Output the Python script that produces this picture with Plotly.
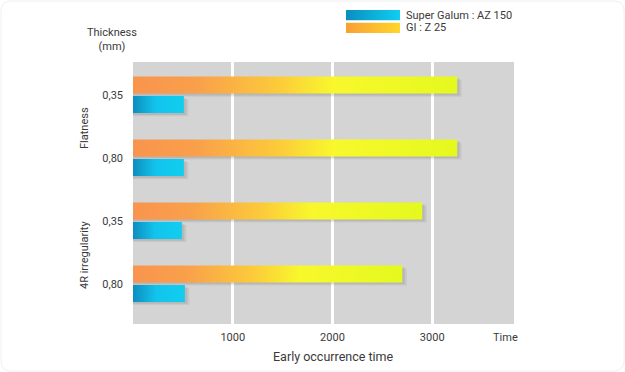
import base64
import plotly.graph_objects as go

# ---- data ----
groups = ["Flatness", "4R irregularity"]
thickness = ["0,35", "0,80", "0,35", "0,80"]
gi_z25 = [3250, 3250, 2900, 2700]          # GI : Z 25 (orange)
super_galum = [510, 510, 490, 520]         # Super Galum : AZ 150 (blue)
x_ticks = [1000, 2000, 3000]
series_names = ["Super Galum : AZ 150", "GI : Z 25"]

FONT = "Roboto, sans-serif"
TXT = "#3a3a3a"

W, H = 625, 372
L, R, T, B = 133, 111, 62, 48
PW, PH = W - L - R, H - T - B

def px(x):
    return (x - L) / PW

def py(y):
    return (H - B - y) / PH

orange_scale = [[0, "#F9944E"], [0.2, "#F9A04B"], [0.45, "#FCCB3A"],
                [0.62, "#F8F82C"], [1, "#E4F91E"]]
blue_scale = [[0, "#0E8DBF"], [0.45, "#12C4EC"], [1, "#12CDEF"]]

BAR_H = 0.27
OFF = 0.155

fig = go.Figure()

def bar(value, yc, scale, name):
    y0, y1 = yc - BAR_H / 2, yc + BAR_H / 2
    for dx, dy, a in [(45, 0.05, 0.06), (25, 0.03, 0.08)]:
        fig.add_trace(go.Scatter(
            x=[0, value + dx, value + dx, 0, 0],
            y=[y0 + dy, y0 + dy, y1 + dy, y1 + dy, y0 + dy],
            fill="toself", mode="lines", line=dict(width=0),
            fillcolor=f"rgba(0,0,0,{a})", hoverinfo="skip", showlegend=False))
    fig.add_trace(go.Scatter(
        x=[0, value, value, 0, 0], y=[y0, y0, y1, y1, y0],
        fill="toself", mode="lines", line=dict(width=0),
        fillgradient=dict(type="horizontal", colorscale=scale),
        name=name, showlegend=False))

for i in range(len(thickness)):
    bar(gi_z25[i], i - OFF, orange_scale, series_names[1])
    bar(super_galum[i], i + OFF, blue_scale, series_names[0])

def grad_svg(c0, c1):
    svg = ('<svg xmlns="http://www.w3.org/2000/svg" width="54" height="11" '
           'viewBox="0 0 54 11" preserveAspectRatio="none"><defs>'
           '<linearGradient id="g" x1="0" y1="0" x2="1" y2="0">'
           f'<stop offset="0" stop-color="{c0}"/><stop offset="1" stop-color="{c1}"/>'
           '</linearGradient></defs><rect width="54" height="11" fill="url(#g)"/></svg>')
    return "data:image/svg+xml;base64," + base64.b64encode(svg.encode()).decode()

def note(x, y, text, size=11, angle=0, xanchor="center"):
    fig.add_annotation(xref="paper", yref="paper", x=px(x), y=py(y), text=text,
                       showarrow=False, xanchor=xanchor, yanchor="middle",
                       textangle=angle, align="center",
                       font=dict(family=FONT, size=size, color=TXT))

leg_sw = [
    (series_names[0], "#0A8EBF", "#10CDF2", 10, 20.5),
    (series_names[1], "#F9A033", "#FFD62A", 22.5, 33),
]
for name, c0, c1, t, b in leg_sw:
    fig.add_layout_image(source=grad_svg(c0, c1), xref="paper", yref="paper",
                         x=px(346), y=py(t), sizex=54 / PW, sizey=(b - t) / PH,
                         xanchor="left", yanchor="top", sizing="stretch", layer="above")
    note(404, (t + b) / 2, name, size=11, xanchor="left")

fig.update_layout(
    width=W, height=H,
    margin=dict(l=L, r=R, t=T, b=B),
    paper_bgcolor="white", plot_bgcolor="#D4D4D4",
    showlegend=False,
    xaxis=dict(range=[0, 3820], tickvals=x_ticks, ticktext=[str(v) for v in x_ticks],
               showgrid=True, gridcolor="white", gridwidth=3, zeroline=False,
               showline=False, ticks="", tickfont=dict(family=FONT, size=11, color=TXT),
               ticklabelstandoff=5, fixedrange=True),
    yaxis=dict(range=[3.64, -0.52], tickvals=list(range(len(thickness))), ticktext=thickness,
               showgrid=False, zeroline=False, showline=False, ticks="",
               tickfont=dict(family=FONT, size=11, color=TXT), ticklabelstandoff=9,
               fixedrange=True),
)

# faint rounded frame around the figure
x0, x1, y0, y1, r = 1, 624, 1, 371, 10
path = (f"M {px(x0 + r)},{py(y0)} L {px(x1 - r)},{py(y0)} "
        f"Q {px(x1)},{py(y0)} {px(x1)},{py(y0 + r)} L {px(x1)},{py(y1 - r)} "
        f"Q {px(x1)},{py(y1)} {px(x1 - r)},{py(y1)} L {px(x0 + r)},{py(y1)} "
        f"Q {px(x0)},{py(y1)} {px(x0)},{py(y1 - r)} L {px(x0)},{py(y0 + r)} "
        f"Q {px(x0)},{py(y0)} {px(x0 + r)},{py(y0)} Z")
fig.add_shape(type="path", xref="paper", yref="paper", layer="below", path=path,
              line=dict(color="#F0F0F0", width=1))

note(112, 40, "Thickness<br>(mm)")
note(84, 128, groups[0], angle=-90)
note(84, 255, groups[1], angle=-90)
note(505, 337, "Time")
note(333, 356, "Early occurrence time", size=12.5)

fig.write_html("out.html", config={"displayModeBar": False},
               post_script="document.body.style.margin='0';")
